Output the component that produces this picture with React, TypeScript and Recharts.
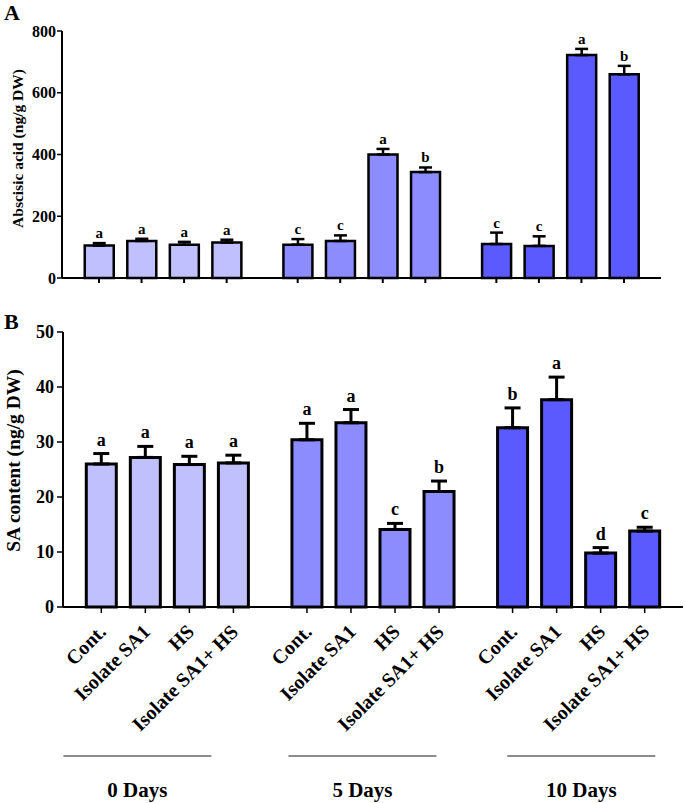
import { Bar, BarChart, Cell, ErrorBar, LabelList, XAxis, YAxis } from "recharts";

const conditions = ["Cont.", "Isolate SA1", "HS", "Isolate SA1+ HS"];
const dayLabels = ["0 Days", "5 Days", "10 Days"];
const dayColors = ["#C0C0FF", "#8C8CFF", "#5A5AFF"];

// abscisic acid, ng/g DW
const abaDay0 = [105, 120, 108, 115];
const abaDay5 = [108, 120, 400, 343];
const abaDay10 = [110, 104, 722, 660];
const abaErr0 = [8, 7, 9, 9];
const abaErr5 = [18, 18, 18, 15];
const abaErr10 = [37, 31, 20, 27];
const abaLetters0 = ["a", "a", "a", "a"];
const abaLetters5 = ["c", "c", "a", "b"];
const abaLetters10 = ["c", "c", "a", "b"];
const abaTicks = [0, 200, 400, 600, 800];

// SA content, ng/g DW
const saDay0 = [26.0, 27.2, 25.9, 26.2];
const saDay5 = [30.4, 33.5, 14.1, 21.0];
const saDay10 = [32.6, 37.7, 9.8, 13.8];
const saErr0 = [1.9, 2.0, 1.5, 1.4];
const saErr5 = [3.0, 2.4, 1.1, 1.9];
const saErr10 = [3.6, 4.1, 1.0, 0.7];
const saLetters0 = ["a", "a", "a", "a"];
const saLetters5 = ["a", "a", "c", "b"];
const saLetters10 = ["b", "a", "d", "c"];
const saTicks = [0, 10, 20, 30, 40, 50];

// layout of the category axis (bar slots, gap between day groups)
const GROUP_STEP = 4.67;
const X_DOMAIN: [number, number] = [-0.87, 13.21];
const DAY_MARKS = [0.82, 5.93, 10.9];
const FONT = "'Liberation Serif', 'Times New Roman', serif";

type Row = {
  x: number;
  name: string;
  group: number;
  mean: number;
  err: number;
  range: [number, number];
  letter: string;
};

function buildRows(means: number[][], errs: number[][], letters: string[][]): Row[] {
  return means.flatMap((m, g) =>
    m.map((v, i) => ({
      x: g * GROUP_STEP + i,
      name: conditions[i],
      group: g,
      mean: v,
      err: errs[g][i],
      range: [0, errs[g][i]] as [number, number],
      letter: letters[g][i],
    }))
  );
}

const abaRows = buildRows(
  [abaDay0, abaDay5, abaDay10],
  [abaErr0, abaErr5, abaErr10],
  [abaLetters0, abaLetters5, abaLetters10]
);
const saRows = buildRows(
  [saDay0, saDay5, saDay10],
  [saErr0, saErr5, saErr10],
  [saLetters0, saLetters5, saLetters10]
);
const xTicks = abaRows.map((r) => r.x);

const findRow = (rows: Row[], v: number) => rows.find((r) => Math.abs(r.x - v) < 1e-6);

const letterLabel = (rows: Row[], size: number, gap: number) => (props: any) => {
  const vb = props.viewBox ?? props;
  const x = vb.x ?? props.x;
  const y = vb.y ?? props.y;
  const w = vb.width ?? props.width;
  const h = vb.height ?? props.height;
  const r = rows[props.index] ?? findRow(rows, Number(props.value));
  if (!r) return null;
  const px = Math.abs(h) / r.mean;
  const top = Math.min(y, y + h) - r.err * px;
  return (
    <text
      x={x + w / 2}
      y={top - gap}
      textAnchor="middle"
      fontFamily={FONT}
      fontWeight="bold"
      fontSize={size}
      fill="#000"
    >
      {r.letter}
    </text>
  );
};

const EmptyTick = () => <g />;

const RotatedTick = (props: any) => {
  const { x, y, payload } = props;
  const r = findRow(saRows, payload.value);
  const px = x + 6;
  const py = y + 18;
  return (
    <text
      x={px}
      y={py}
      transform={`rotate(-45, ${px}, ${py})`}
      textAnchor="end"
      fontFamily={FONT}
      fontWeight="bold"
      fontSize={20}
      fill="#000"
    >
      {r?.name}
    </text>
  );
};

const DayTick = (props: any) => {
  const { x, y, index } = props;
  return (
    <g>
      <line x1={x - 74} x2={x + 74} y1={y + 11} y2={y + 11} stroke="#666" strokeWidth={1.5} />
      <text
        x={x}
        y={y + 52}
        textAnchor="middle"
        fontFamily={FONT}
        fontWeight="bold"
        fontSize={21}
        fill="#000"
      >
        {dayLabels[index]}
      </text>
    </g>
  );
};

const axisLine = { stroke: "#000", strokeWidth: 2 };

export default function App() {
  return (
    <div style={{ position: "absolute", left: 0, top: 0, width: 685, height: 803, background: "#fff" }}>
      <div style={{ position: "absolute", left: 4, top: 0, fontFamily: FONT, fontWeight: "bold", fontSize: 22 }}>A</div>
      <div style={{ position: "absolute", left: 4, top: 309, fontFamily: FONT, fontWeight: "bold", fontSize: 22 }}>B</div>

      <div style={{ position: "absolute", left: 0, top: 0 }}>
        <BarChart width={685} height={290} data={abaRows} margin={{ top: 31, right: 24, bottom: 0, left: 0 }}>
          <XAxis
            type="number"
            dataKey="x"
            domain={X_DOMAIN}
            ticks={xTicks}
            allowDataOverflow
            height={12}
            tick={<EmptyTick />}
            tickSize={5}
            interval={0}
            axisLine={axisLine}
            tickLine={{ stroke: "#000", strokeWidth: 2 }}
          />
          <YAxis
            domain={[0, 800]}
            ticks={abaTicks}
            width={62}
            tickSize={5}
            tickMargin={1}
            axisLine={axisLine}
            tickLine={{ stroke: "#000", strokeWidth: 1.5 }}
            tick={{ fontFamily: FONT, fontWeight: "bold", fontSize: 16, fill: "#000" }}
            label={{
              value: "Abscisic acid (ng/g DW)",
              angle: -90,
              position: "center",
              dx: -14,
              dy: -6,
              fontFamily: FONT,
              fontWeight: "bold",
              fontSize: 15.5,
              fill: "#000",
            }}
          />
          <Bar dataKey="mean" barSize={29} stroke="#000" strokeWidth={2.5} isAnimationActive={false}>
            {abaRows.map((r) => (
              <Cell key={r.x} fill={dayColors[r.group]} />
            ))}
            <ErrorBar dataKey="range" width={6.5} stroke="#000" strokeWidth={2.5} direction="y" />
            <LabelList dataKey="x" content={letterLabel(abaRows, 15, 5)} />
          </Bar>
        </BarChart>
      </div>

      <div style={{ position: "absolute", left: 0, top: 290 }}>
        <BarChart width={685} height={513} data={saRows} margin={{ top: 42, right: 2, bottom: 0, left: 0 }}>
          <XAxis
            type="number"
            dataKey="x"
            domain={X_DOMAIN}
            ticks={xTicks}
            allowDataOverflow
            height={138}
            tickSize={6}
            axisLine={axisLine}
            tickLine={{ stroke: "#000", strokeWidth: 1.5 }}
            tick={<RotatedTick />}
            interval={0}
          />
          <XAxis
            xAxisId="days"
            type="number"
            dataKey="x"
            domain={X_DOMAIN}
            ticks={DAY_MARKS}
            allowDataOverflow
            height={58}
            tickSize={0}
            tickMargin={0}
            axisLine={false}
            tickLine={false}
            tick={<DayTick />}
            interval={0}
          />
          <YAxis
            domain={[0, 50]}
            ticks={saTicks}
            width={63}
            tickSize={6}
            tickMargin={3}
            axisLine={axisLine}
            tickLine={{ stroke: "#000", strokeWidth: 1.5 }}
            tick={{ fontFamily: FONT, fontWeight: "bold", fontSize: 18, fill: "#000" }}
            label={{
              value: "SA content (ng/g DW)",
              angle: -90,
              position: "center",
              dx: -18,
              dy: -9,
              fontFamily: FONT,
              fontWeight: "bold",
              fontSize: 19.5,
              fill: "#000",
            }}
          />
          <Bar dataKey="mean" barSize={30} stroke="#000" strokeWidth={3} isAnimationActive={false}>
            {saRows.map((r) => (
              <Cell key={r.x} fill={dayColors[r.group]} />
            ))}
            <ErrorBar dataKey="range" width={8} stroke="#000" strokeWidth={3} direction="y" />
            <LabelList dataKey="x" content={letterLabel(saRows, 18, 8)} />
          </Bar>
        </BarChart>
      </div>
    </div>
  );
}
